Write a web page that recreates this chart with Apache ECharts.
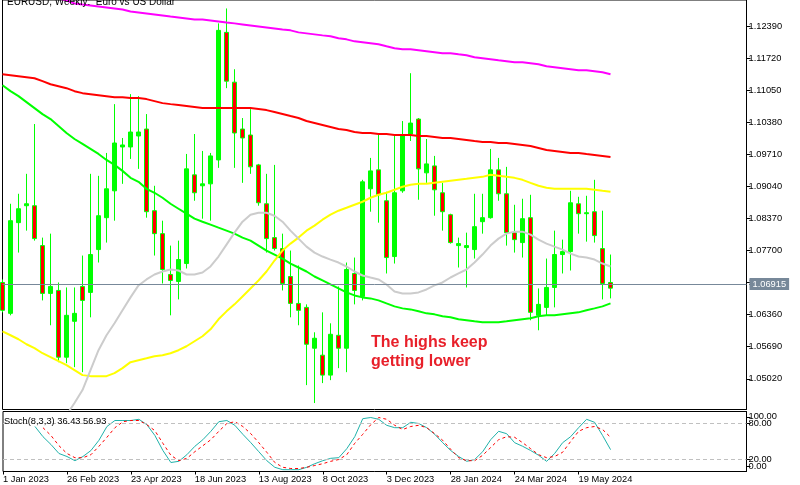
<!DOCTYPE html>
<html>
<head>
<meta charset="utf-8">
<script src="https://cdn.jsdelivr.net/npm/echarts@6.0.0/dist/echarts.min.js"></script>
<style>
 body { margin: 0; background: #fff; }
 #chart { width: 800px; height: 485px; }
</style>
</head>
<body>
<div id="chart"></div>
<script>
// weekly EURUSD, 1 Jan 2023 .. 16 Jun 2024, [open, close, low, high]
var ohlc = [
 [1.07034,1.06451,1.06409,1.07097],[1.06388,1.08326,1.06347,1.08680],[1.08285,1.08576,1.07659,1.08889],
 [1.08639,1.08680,1.08118,1.09306],[1.08639,1.07951,1.07909,1.10348],[1.07805,1.06805,1.06659,1.07972],
 [1.06805,1.06951,1.06139,1.08055],[1.06867,1.05471,1.05367,1.07034],[1.05471,1.06347,1.05346,1.06930],
 [1.06222,1.06388,1.05263,1.06930],[1.06951,1.06659,1.05158,1.07597],[1.06826,1.07618,1.06305,1.09306],
 [1.07722,1.08430,1.07451,1.09264],[1.08389,1.08993,1.07868,1.09743],[1.08951,1.09951,1.08326,1.10764],
 [1.09868,1.09910,1.09097,1.10056],[1.09868,1.10181,1.09618,1.10973],[1.10098,1.10181,1.09410,1.10931],
 [1.10243,1.08514,1.08389,1.10556],[1.08535,1.08055,1.07597,1.09056],[1.08055,1.07305,1.07013,1.08326],
 [1.07201,1.07076,1.06347,1.07805],[1.07055,1.07513,1.06680,1.07909],[1.07430,1.09410,1.07326,1.09722],
 [1.09285,1.08910,1.08743,1.10139],[1.09056,1.09097,1.08368,1.09785],[1.09097,1.09681,1.08326,1.09743],
 [1.09597,1.12307,1.09431,1.12453],[1.12265,1.11244,1.11098,1.12765],[1.11223,1.10160,1.09431,1.11494],
 [1.10243,1.10056,1.09118,1.10473],[1.10118,1.09452,1.09306,1.10660],[1.09493,1.08701,1.08639,1.09514],
 [1.08680,1.07951,1.07659,1.09306],[1.07972,1.07743,1.07701,1.09493],[1.07743,1.07013,1.06867,1.08055],
 [1.07159,1.06596,1.06305,1.07701],[1.06596,1.06451,1.06139,1.07389],[1.06513,1.05742,1.04887,1.06576],
 [1.05659,1.05867,1.04512,1.05992],[1.05513,1.05096,1.04929,1.06409],[1.05096,1.05950,1.04991,1.06180],
 [1.05929,1.05659,1.05242,1.06951],[1.05659,1.07305,1.05158,1.07451],[1.07222,1.06867,1.06576,1.07555],
 [1.06742,1.09139,1.06659,1.09181],[1.08993,1.09368,1.08514,1.09639],[1.09389,1.08868,1.08285,1.10139],
 [1.08743,1.07555,1.07222,1.08931],[1.07576,1.08910,1.07430,1.10098],[1.08951,1.10118,1.08910,1.10410],
 [1.10139,1.10368,1.09993,1.11411],[1.10452,1.09410,1.08764,1.10473],[1.09327,1.09514,1.09118,1.10035],
 [1.09472,1.08972,1.08430,1.09681],[1.08910,1.08514,1.08118,1.09118],[1.08451,1.07868,1.07847,1.08472],
 [1.07805,1.07847,1.07347,1.07972],[1.07764,1.07805,1.06930,1.08076],[1.07722,1.08201,1.07534,1.08889],
 [1.08305,1.08389,1.08055,1.08889],[1.08389,1.09389,1.08368,1.09827],[1.09389,1.08889,1.08743,1.09639],
 [1.08889,1.08076,1.07805,1.09452],[1.08076,1.07930,1.07659,1.08659],[1.07868,1.08368,1.07555,1.08785],
 [1.08389,1.06409,1.06243,1.08868],[1.06347,1.06576,1.06034,1.06909],[1.06513,1.06930,1.06347,1.07534],
 [1.06930,1.07618,1.06513,1.08118],[1.07618,1.07680,1.07222,1.07930],[1.07680,1.08701,1.07284,1.08951],
 [1.08680,1.08472,1.08055,1.08826],[1.08472,1.08493,1.07888,1.08847],[1.08514,1.08014,1.07868,1.09181],
 [1.07743,1.07013,1.06680,1.08535],[1.07034,1.06915,1.06701,1.07618]
];

var maMagenta = [null,null,null,null,null,null,null,1.12974,1.12932,1.12869,
 1.12848,1.12828,1.12807,1.12786,1.12765,1.12744,1.12703,1.12682,1.12661,1.12640,
 1.12619,1.12598,1.12578,1.12557,1.12536,1.12536,1.12515,1.12494,1.12473,1.12453,
 1.12432,1.12411,1.12390,1.12369,1.12348,1.12327,1.12307,1.12265,1.12244,1.12223,
 1.12202,1.12182,1.12140,1.12119,1.12077,1.12057,1.12036,1.12015,1.11973,1.11932,
 1.11911,1.11911,1.11890,1.11869,1.11848,1.11827,1.11827,1.11806,1.11786,1.11744,
 1.11723,1.11702,1.11681,1.11661,1.11640,1.11640,1.11619,1.11598,1.11556,1.11536,
 1.11515,1.11494,1.11473,1.11473,1.11452,1.11431,1.11390];

var maRed = [1.11390,1.11369,1.11348,1.11327,1.11306,1.11244,1.11181,1.11140,1.11098,1.11035,
 1.10994,1.10973,1.10952,1.10931,1.10910,1.10910,1.10890,1.10890,1.10869,1.10827,
 1.10785,1.10764,1.10744,1.10723,1.10702,1.10681,1.10681,1.10681,1.10681,1.10681,
 1.10681,1.10681,1.10660,1.10639,1.10598,1.10556,1.10514,1.10473,1.10410,1.10369,
 1.10327,1.10285,1.10243,1.10223,1.10181,1.10160,1.10160,1.10139,1.10139,1.10118,
 1.10118,1.10118,1.10098,1.10098,1.10077,1.10056,1.10056,1.10035,1.10014,1.09993,
 1.09973,1.09973,1.09952,1.09952,1.09931,1.09910,1.09889,1.09848,1.09806,1.09785,
 1.09764,1.09743,1.09743,1.09722,1.09702,1.09681,1.09660];

var maGreen = [1.11160,1.11035,1.10931,1.10806,1.10681,1.10556,1.10452,1.10306,1.10160,1.10035,
 1.09931,1.09827,1.09722,1.09597,1.09493,1.09368,1.09222,1.09139,1.08993,1.08910,
 1.08806,1.08680,1.08576,1.08472,1.08368,1.08305,1.08243,1.08180,1.08118,1.08055,
 1.07972,1.07909,1.07805,1.07701,1.07618,1.07534,1.07430,1.07347,1.07263,1.07159,
 1.07076,1.06992,1.06909,1.06826,1.06763,1.06722,1.06701,1.06659,1.06596,1.06534,
 1.06492,1.06471,1.06430,1.06388,1.06367,1.06326,1.06305,1.06263,1.06242,1.06221,
 1.06201,1.06201,1.06201,1.06221,1.06242,1.06263,1.06284,1.06326,1.06346,1.06346,
 1.06367,1.06388,1.06409,1.06451,1.06492,1.06534,1.06596];

var maYellow = [1.06013,1.05930,1.05846,1.05742,1.05659,1.05554,1.05471,1.05388,1.05304,1.05200,
 1.05096,1.05075,1.05075,1.05075,1.05138,1.05242,1.05367,1.05409,1.05450,1.05492,
 1.05513,1.05554,1.05617,1.05700,1.05805,1.05909,1.06055,1.06263,1.06430,1.06576,
 1.06742,1.06909,1.07076,1.07263,1.07493,1.07701,1.07847,1.07972,1.08118,1.08222,
 1.08347,1.08451,1.08535,1.08597,1.08660,1.08722,1.08806,1.08868,1.08910,1.08972,
 1.09035,1.09076,1.09097,1.09097,1.09118,1.09139,1.09160,1.09181,1.09201,1.09222,
 1.09243,1.09285,1.09264,1.09243,1.09222,1.09181,1.09118,1.09056,1.09014,1.08993,
 1.08993,1.08993,1.08993,1.08993,1.08972,1.08951,1.08931];

var maGrey = [null,null,null,null,null,null,null,null,1.04262,1.04512,
 1.04783,1.05200,1.05617,1.05930,1.06180,1.06451,1.06722,1.06972,1.07097,1.07201,
 1.07263,1.07305,1.07284,1.07201,1.07201,1.07243,1.07368,1.07576,1.07826,1.08076,
 1.08305,1.08451,1.08493,1.08493,1.08430,1.08305,1.08118,1.07951,1.07784,1.07659,
 1.07576,1.07513,1.07451,1.07368,1.07263,1.07180,1.07138,1.07097,1.06992,1.06847,
 1.06805,1.06805,1.06826,1.06888,1.06972,1.07034,1.07138,1.07222,1.07305,1.07451,
 1.07618,1.07805,1.07951,1.08055,1.08097,1.08097,1.08034,1.07930,1.07847,1.07784,
 1.07722,1.07638,1.07576,1.07555,1.07513,1.07430,1.07368];

var stochMain = [null,null,null,null,75,58,45,30,25,18,
 25,35,52,75,85,85,85,87,78,60,
 35,15,17,28,42,53,67,83,85,77,
 62,48,33,18,7,3,3,3,7,13,
 18,22,23,38,58,88,90,87,77,73,
 73,82,80,73,62,48,35,25,17,20,
 33,53,67,63,48,42,35,27,17,30,
 48,58,73,87,82,60,36.43];

var stochSignal = [null,null,null,null,null,73,60,43,30,23,
 23,28,42,57,73,83,85,85,78,68,
 47,27,18,22,33,43,53,67,80,83,
 75,63,48,32,15,7,5,5,7,10,
 13,17,20,28,47,62,78,90,87,77,
 70,75,77,73,63,52,37,23,18,18,
 27,40,53,58,57,48,38,28,23,25,
 32,50,67,73,75,70,56.93];

var tickLabels = ['1 Jan 2023','26 Feb 2023','23 Apr 2023','18 Jun 2023','13 Aug 2023',
 '8 Oct 2023','3 Dec 2023','28 Jan 2024','24 Mar 2024','19 May 2024'];
var priceTicks = [1.12390,1.11720,1.11050,1.10380,1.09710,1.09040,1.08370,1.07700,1.07030,1.06360,1.05690,1.05020];
var stochLevels = [80, 20];
var stochBounds = [100, 0];

var nSlots = 94;       // weeks shown incl. empty space on the right
var lastClose = ohlc[ohlc.length - 1][1];

var cats = [];
for (var i = 0; i < nSlots; i++) {
 cats.push(i % 8 === 0 && tickLabels[i / 8] ? tickLabels[i / 8] : 'w' + i);
}
function showTick(idx) { return idx % 8 === 0 && idx / 8 < tickLabels.length; }

// MT4 pulls the 100/0 labels inwards so they stay inside the pane
var boundPos = [91, 9];

var FONT = 'Liberation Sans';
function maLine(data, color, width) {
 return { type: 'line', data: data, xAxisIndex: 0, yAxisIndex: 0, showSymbol: false, symbol: 'none',
  lineStyle: { color: color, width: width }, silent: true, z: 3 };
}
function stochAxis(values, labelFn, showLine) {
 return { type: 'value', gridIndex: 1, position: 'right', min: 0, max: 100,
  splitLine: { show: false },
  axisLine: { show: showLine, lineStyle: { color: '#000' } },
  axisTick: { show: true, customValues: values, length: 4, lineStyle: { color: '#000' } },
  axisLabel: { customValues: values, margin: 2, fontSize: 9.3, color: '#000', fontFamily: FONT,
   hideOverlap: false, showMinLabel: true, showMaxLabel: true, formatter: labelFn } };
}

var chart = echarts.init(document.getElementById('chart'), null, { renderer: 'canvas' });
chart.setOption({
 animation: false,
 backgroundColor: '#fff',
 textStyle: { fontFamily: FONT },
 grid: [
  { left: 2.5, right: 53.5, top: -1.5, height: 411, show: true, borderColor: '#000', borderWidth: 1 },
  { left: 2.5, right: 53.5, top: 411.5, height: 60, show: true, borderColor: '#000', borderWidth: 1 }
 ],
 xAxis: [
  { type: 'category', gridIndex: 0, data: cats, boundaryGap: false,
    axisLine: { show: false }, axisTick: { show: false }, axisLabel: { show: false }, splitLine: { show: false } },
  { type: 'category', gridIndex: 1, data: cats, boundaryGap: false,
    axisLine: { show: false },
    axisTick: { show: true, interval: showTick, length: 3, lineStyle: { color: '#000' } },
    axisLabel: { interval: showTick, align: 'left', margin: 3, fontSize: 9.3, color: '#000', fontFamily: FONT },
    splitLine: { show: false } }
 ],
 yAxis: [
  { type: 'value', gridIndex: 0, position: 'right', min: 1.04377, max: 1.12942,
    splitLine: { show: false },
    axisLine: { show: true, lineStyle: { color: '#000' } },
    axisTick: { show: true, customValues: priceTicks, length: 4, lineStyle: { color: '#000' } },
    axisLabel: { customValues: priceTicks, margin: 2, fontSize: 9.3, color: '#000', fontFamily: FONT,
      hideOverlap: false, formatter: function (v) { return v.toFixed(5); } } },
  stochAxis(stochLevels, function (v) { return v.toFixed(2); }, true),
  stochAxis(boundPos, function (v) { return stochBounds[boundPos.indexOf(v)].toFixed(2); }, false)
 ],
 series: [
  { type: 'candlestick', xAxisIndex: 0, yAxisIndex: 0, data: ohlc, barWidth: 5, clip: false, silent: true, z: 2,
    itemStyle: { color: '#00ff00', color0: '#ff0000', borderColor: '#00ff00', borderColor0: '#00ff00', borderWidth: 1 },
    markLine: { symbol: 'none', silent: true, animation: false,
      lineStyle: { color: '#778899', width: 1, type: 'solid' },
      label: { position: 'end', distance: 3, formatter: lastClose.toFixed(5), color: '#fff',
        backgroundColor: '#778899', padding: [2, 3, 1, 3], fontSize: 9.3, fontFamily: FONT },
      data: [{ yAxis: lastClose }] } },
  maLine(maMagenta, '#ff00ff', 2),
  maLine(maRed, '#ff0000', 2),
  maLine(maGreen, '#00ff00', 2),
  maLine(maYellow, '#ffff00', 2),
  maLine(maGrey, '#cccccc', 2),
  { type: 'line', xAxisIndex: 1, yAxisIndex: 1, data: stochMain, showSymbol: false, symbol: 'none', silent: true,
    lineStyle: { color: '#20b2aa', width: 1 },
    markLine: { symbol: 'none', silent: true, animation: false, label: { show: false },
      lineStyle: { color: '#c0c0c0', width: 1, type: [4, 3] },
      data: stochLevels.map(function (v) { return { yAxis: v }; }) } },
  { type: 'line', xAxisIndex: 1, yAxisIndex: 1, data: stochSignal, showSymbol: false, symbol: 'none', silent: true,
    lineStyle: { color: '#ff0000', width: 1, type: [3, 3] } }
 ],
 graphic: [
  { type: 'text', left: 7, top: -3, z: 100, silent: true,
    style: { text: 'EURUSD, Weekly:  Euro vs US Dollar', font: '10px "Liberation Sans"', fill: '#000' } },
  { type: 'text', left: 4, top: 417, z: 100, silent: true,
    style: { text: 'Stoch(8,3,3) ' + stochMain[stochMain.length - 1].toFixed(2) + ' ' +
      stochSignal[stochSignal.length - 1].toFixed(2), font: '9.3px "Liberation Sans"', fill: '#000' } },
  { type: 'text', left: 371, top: 333, z: 100, silent: true,
    style: { text: 'The highs keep\ngetting lower', font: 'bold 16px "Liberation Sans"', fill: '#e8202a', lineHeight: 19 } }
 ]
});
</script>
</body>
</html>
